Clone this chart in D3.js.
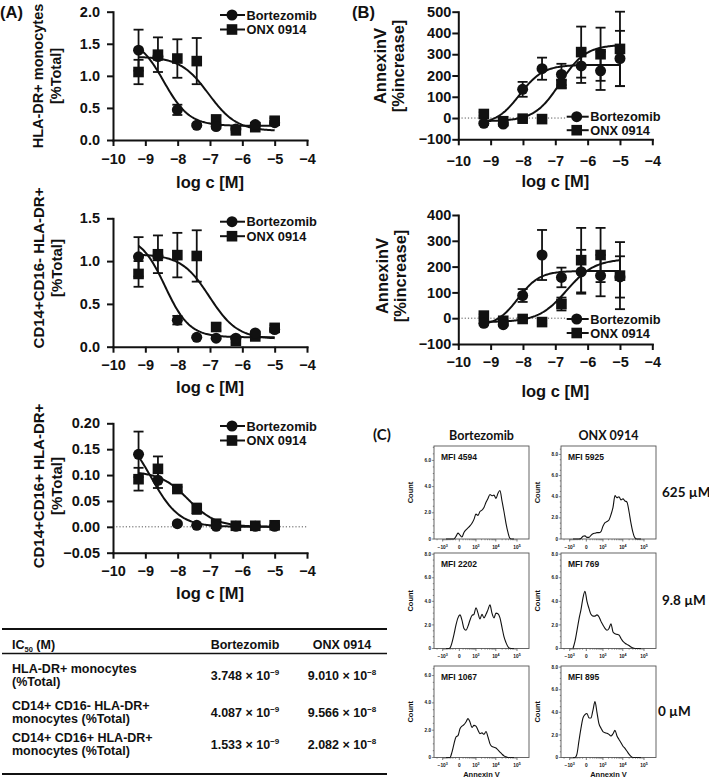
<!DOCTYPE html>
<html><head><meta charset="utf-8">
<script src="https://cdn.jsdelivr.net/npm/d3@7"></script>
<style>
body{margin:0;background:#fff;}
svg{display:block;}
</style></head><body>
<svg id="c" width="709" height="779"></svg>
<script>
// ---------------- DATA ----------------
const seriesNames = ["Bortezomib", "ONX 0914"];
const logC = [-9.21, -8.61, -8.01, -7.41, -6.81, -6.2, -5.6, -5.0];
const xTicks = [-10, -9, -8, -7, -6, -5, -4];

// IC50 table
const tableRowLabels = [["HLA-DR+ monocytes", "(%Total)"], ["CD14+ CD16- HLA-DR+", "monocytes (%Total)"], ["CD14+ CD16+ HLA-DR+", "monocytes (%Total)"]];
const ic50BortMant = ["3.748", "4.087", "1.533"];
const ic50BortExp = [-9, -9, -9];
const ic50OnxMant = ["9.010", "9.566", "2.082"];
const ic50OnxExp = [-8, -8, -8];

// Panel A1: HLA-DR+ monocytes [%Total]
const a1Bort = [1.40, 1.30, 0.47, 0.23, 0.21, 0.17, 0.24, 0.27];
const a1BortErr = [0.32, 0.05, 0.08, 0.02, 0.03, 0.02, 0.03, 0.03];
const a1Onx = [1.06, 1.33, 1.27, 1.23, 0.32, 0.15, 0.20, 0.30];
const a1OnxErr = [0.19, 0.27, 0.30, 0.36, 0.06, 0.03, 0.03, 0.04];
const a1Ticks = [0, 0.5, 1.0, 1.5, 2.0];
// fit: [value at low dose, value at high dose, hill]
const a1BortFit = [1.60, 0.22, 1.1];
const a1OnxFit = [1.30, 0.14, 1.0];

// Panel A2: CD14+CD16- HLA-DR+ [%Total]
const a2Bort = [1.05, 1.06, 0.31, 0.11, 0.10, 0.10, 0.16, 0.20];
const a2BortErr = [0.23, 0.05, 0.05, 0.01, 0.01, 0.01, 0.02, 0.02];
const a2Onx = [0.85, 1.08, 1.07, 1.06, 0.23, 0.07, 0.12, 0.22];
const a2OnxErr = [0.15, 0.22, 0.26, 0.30, 0.04, 0.02, 0.02, 0.03];
const a2Ticks = [0, 0.5, 1.0, 1.5];
const a2BortFit = [1.30, 0.11, 1.15];
const a2OnxFit = [1.08, 0.09, 1.0];

// Panel A3: CD14+CD16+ HLA-DR+ [%Total]
const a3Bort = [0.14, 0.09, 0.006, 0.003, 0.001, 0.001, 0.001, 0.001];
const a3BortErr = [0.044, 0.015, 0.002, 0.001, 0, 0, 0, 0];
const a3Onx = [0.092, 0.112, 0.073, 0.035, 0.006, 0.002, 0.002, 0.003];
const a3OnxErr = [0.022, 0.024, 0.004, 0.010, 0.002, 0.001, 0.001, 0.001];
const a3Ticks = [-0.05, 0, 0.05, 0.10, 0.15, 0.20];
const a3BortFit = [0.19, 0.0, 1.0];
const a3OnxFit = [0.107, 0.0, 1.0];

// Panel B1: AnnexinV [%increase]
const b1Bort = [-25, -28, 135, 232, 205, 245, 222, 280];
const b1BortErr = [8, 6, 35, 52, 50, 80, 90, 130];
const b1Onx = [19, -15, -3, -5, 160, 310, 300, 325];
const b1OnxErr = [8, 5, 5, 5, 18, 120, 125, 175];
const b1Ticks = [-100, 0, 100, 200, 300, 400, 500];
// fit: [low-dose value, high-dose value, logEC50, hill]
const b1BortFit = [-30, 250, -8.1, 1.2];
const b1OnxFit = [-15, 345, -6.85, 1.1];

// Panel B2: AnnexinV [%increase]
const b2Bort = [-20, -25, 88, 245, 158, 180, 165, 160];
const b2BortErr = [8, 5, 25, 97, 38, 85, 80, 80];
const b2Onx = [10, -10, -3, -15, 55, 225, 245, 165];
const b2OnxErr = [5, 5, 5, 5, 25, 125, 105, 130];
const b2Ticks = [-100, 0, 100, 200, 300, 400];
const b2BortFit = [-30, 183, -8.15, 1.3];
const b2OnxFit = [-15, 230, -6.65, 1.0];

// Panel C: Annexin V histograms
const histCols = ["Bortezomib", "ONX 0914"];
const histRows = ["625 µM", "9.8 µM", "0 µM"];
const histBins = [-640, -480, -350, -240, -155, -86, -31, 15, 66, 130, 210, 310, 430, 580, 770, 1000, 1300, 1650, 2100, 2650, 3350, 4200, 5250, 6550, 8200, 10200, 12700, 15800, 19700, 24400, 30400, 37700, 46800, 58000, 72000];
const histBort625 = [0,0,0,0,0,0.2,0.45,0.3,0.15,0.5,0.7,0.85,1.0,1.2,1.5,1.9,1.8,2.1,2.2,2.4,2.8,3.1,3.4,3.3,3.35,3.1,3.5,3.7,2.9,2.1,1.2,0.5,0.05,0,0];
const histOnx625 = [0,0,0,0,0.05,0.25,0.3,0.15,0.15,0.35,0.5,0.55,0.6,0.6,0.7,1.2,1.55,1.65,1.8,2.3,3.0,4.1,3.9,4.0,3.7,3.8,3.6,3.5,2.6,1.5,0.6,0.1,0,0,0];
const histBort98 = [0,0,0.05,0.5,1.2,2.0,2.6,2.85,2.4,1.7,1.55,1.9,2.4,2.8,2.9,3.45,3.0,2.5,2.9,2.6,2.9,3.3,3.7,3.0,2.6,3.0,2.95,2.6,1.8,1.0,0.5,0.15,0.02,0,0];
const histOnx98 = [0,0.6,1.5,2.5,3.3,4.3,4.85,4.0,3.4,2.9,2.75,2.75,2.85,2.7,2.3,2.0,1.7,1.55,1.7,2.1,1.4,1.25,1.2,1.15,0.85,0.6,0.45,0.35,0.25,0.12,0.04,0,0,0,0];
const histBort0 = [0,0,0,0.4,1.0,1.5,1.6,2.1,2.3,2.4,2.6,2.85,2.6,2.2,2.35,2.3,2.0,1.75,1.8,1.7,1.9,1.5,1.0,0.8,0.75,0.7,0.55,0.4,0.25,0.12,0.05,0,0,0,0];
const histOnx0 = [0,0,0.3,1.5,2.6,3.5,3.8,3.9,3.5,3.5,4.2,4.95,4.0,3.0,2.6,2.3,2.2,2.15,2.05,1.9,2.1,2.4,1.9,1.6,1.3,1.0,0.8,0.55,0.3,0.1,0,0,0,0,0];
const histMFI = [["4594", "5925"], ["2202", "769"], ["1067", "895"]];
const histYMax = [[7.1, 8.8], [8.1, 8.1], [6.7, 8.1]];
const histXTicks = [-1000, 0, 1000, 10000, 100000];
const histXTickLabels = [["−10", "3"], ["0", ""], ["10", "3"], ["10", "4"], ["10", "5"]];

// ---------------- DRAWING ----------------
const FONT = '"Liberation Sans", Arial, sans-serif';
const FONT2 = 'Lato, "Open Sans", sans-serif';
const INK = "#111";
const svg = d3.select("#c").attr("font-family", FONT).attr("font-weight", "bold");

function txt(g, x, y, s, size, anchor, fam) {
  return g.append("text").attr("x", x).attr("y", y).attr("font-size", size)
    .attr("text-anchor", anchor || "start").attr("fill", INK)
    .attr("font-family", fam || FONT).attr("font-weight", "bold").text(s);
}

function drawDR(cfg) {
  const g = svg.append("g");
  const x = d3.scaleLinear().domain([-10, -4]).range([cfg.x0, cfg.x1]);
  const y = d3.scaleLinear().domain(cfg.yDomain).range([cfg.yB, cfg.yT]);

  if (cfg.zero) {
    g.append("line").attr("x1", cfg.x0).attr("x2", cfg.zeroEnd || cfg.x1).attr("y1", y(0)).attr("y2", y(0))
      .attr("stroke", "#555").attr("stroke-width", 1).attr("stroke-dasharray", "1.2,2");
  }

  const xa = d3.axisBottom(x).tickValues(xTicks).tickFormat(d3.format("d"))
    .tickSize(6).tickSizeOuter(0).tickPadding(cfg.xPad);
  const gx = g.append("g").attr("transform", `translate(0,${cfg.yB})`).call(xa);
  const ya = d3.axisLeft(y).tickValues(cfg.yTicks).tickFormat(d3.format(cfg.yFmt))
    .tickSize(6).tickSizeOuter(0).tickPadding(cfg.yPad);
  const gy = g.append("g").attr("transform", `translate(${cfg.x0},0)`).call(ya);
  [gx, gy].forEach(a => {
    a.attr("font-family", FONT).attr("font-size", 14.5).attr("font-weight", "bold");
    a.select(".domain").attr("stroke", INK).attr("stroke-width", 2).attr("stroke-linecap", "square");
    a.selectAll(".tick line").attr("stroke", INK).attr("stroke-width", 2);
    a.selectAll(".tick text").attr("fill", INK);
  });

  // x title
  txt(g, (cfg.x0 + cfg.x1) / 2, cfg.yB + cfg.xTitleOff, "log c [M]", 16.5, "middle");
  // y title
  cfg.yTitle.forEach((s, i) => {
    g.append("text").attr("transform", `translate(${cfg.yTitleX[i]},${cfg.yTitleY}) rotate(-90)`)
      .attr("text-anchor", "middle").attr("dominant-baseline", "central")
      .attr("font-size", cfg.yTitleSize).attr("fill", INK).text(s);
  });

  // fitted curves
  const xs = d3.range(0, 121).map(i => logC[0] + i * (logC[logC.length - 1] - logC[0]) / 120);
  const line = d3.line().x(d => x(d[0])).y(d => y(d[1]));
  const fit = (p, mid, h, xv) => p[0] + (p[1] - p[0]) / (1 + Math.pow(10, (mid - xv) * h));
  cfg.fits.forEach(f => {
    g.append("path").datum(xs.map(v => [v, fit(f.p, f.mid, f.h, v)]))
      .attr("d", line).attr("fill", "none").attr("stroke", INK).attr("stroke-width", 2);
  });

  // error bars
  const series = [{v: cfg.onx, e: cfg.onxErr, shape: "sq"}, {v: cfg.bort, e: cfg.bortErr, shape: "ci"}];
  series.forEach(s => {
    s.v.forEach((v, i) => {
      if (!s.e[i]) return;
      const cx = x(logC[i]), yt = y(v + s.e[i]), yb = y(v - s.e[i]);
      g.append("line").attr("x1", cx).attr("x2", cx).attr("y1", yt).attr("y2", yb).attr("stroke", INK).attr("stroke-width", 1.8);
      [yt, yb].forEach(yy => g.append("line").attr("x1", cx - 5).attr("x2", cx + 5).attr("y1", yy).attr("y2", yy).attr("stroke", INK).attr("stroke-width", 1.8));
    });
  });
  // markers
  series.forEach(s => {
    s.v.forEach((v, i) => marker(g, s.shape, x(logC[i]), y(v)));
  });

  // legend
  const L = cfg.legend;
  [["ci", seriesNames[0]], ["sq", seriesNames[1]]].forEach((d, i) => {
    const yy = L.y + i * L.dy;
    g.append("line").attr("x1", L.x).attr("x2", L.x + L.len).attr("y1", yy).attr("y2", yy).attr("stroke", INK).attr("stroke-width", 2);
    marker(g, d[0], L.x + L.m, yy);
    txt(g, L.x + L.len + 1.5, yy + 4.6, d[1], 12.8, "start");
  });
}

function marker(g, shape, cx, cy) {
  if (shape === "ci") g.append("circle").attr("cx", cx).attr("cy", cy).attr("r", 5.5).attr("fill", INK);
  else g.append("rect").attr("x", cx - 5.3).attr("y", cy - 5.3).attr("width", 10.6).attr("height", 10.6).attr("fill", INK);
}

const ic50 = (m, e) => Math.log10(parseFloat(m) * Math.pow(10, e));

// Panel labels
txt(svg, 0, 18, "(A)", 16.5, "start");
txt(svg, 352, 18, "(B)", 16.5, "start");

drawDR({x0: 113, x1: 307, yB: 140, yT: 11.7, yDomain: [0, 2], yTicks: a1Ticks, yFmt: ".1f",
  bort: a1Bort, bortErr: a1BortErr, onx: a1Onx, onxErr: a1OnxErr,
  fits: [{p: a1BortFit, mid: ic50(ic50BortMant[0], ic50BortExp[0]), h: a1BortFit[2]},
         {p: a1OnxFit, mid: ic50(ic50OnxMant[0], ic50OnxExp[0]), h: a1OnxFit[2]}],
  xPad: 8, yPad: 7, xTitleOff: 48, yTitle: ["HLA-DR+ monocytes", "[%Total]"], yTitleX: [38, 56], yTitleY: 76, yTitleSize: 14.5,
  legend: {x: 220, y: 15, dy: 14.5, len: 25, m: 12}});

drawDR({x0: 113, x1: 307, yB: 346.7, yT: 218.3, yDomain: [0, 1.5], yTicks: a2Ticks, yFmt: ".1f",
  bort: a2Bort, bortErr: a2BortErr, onx: a2Onx, onxErr: a2OnxErr,
  fits: [{p: a2BortFit, mid: ic50(ic50BortMant[1], ic50BortExp[1]), h: a2BortFit[2]},
         {p: a2OnxFit, mid: ic50(ic50OnxMant[1], ic50OnxExp[1]), h: a2OnxFit[2]}],
  xPad: 7, yPad: 7, xTitleOff: 46, yTitle: ["CD14+CD16- HLA-DR+", "[%Total]"], yTitleX: [38, 56], yTitleY: 268, yTitleSize: 15,
  legend: {x: 220, y: 221.7, dy: 14.5, len: 25, m: 12}});

drawDR({x0: 113, x1: 307, yB: 552.7, yT: 423.3, yDomain: [-0.05, 0.20], yTicks: a3Ticks, yFmt: ".2f", zero: true,
  bort: a3Bort, bortErr: a3BortErr, onx: a3Onx, onxErr: a3OnxErr,
  fits: [{p: a3BortFit, mid: ic50(ic50BortMant[2], ic50BortExp[2]), h: a3BortFit[2]},
         {p: a3OnxFit, mid: ic50(ic50OnxMant[2], ic50OnxExp[2]), h: a3OnxFit[2]}],
  xPad: 7, yPad: 7, xTitleOff: 46, yTitle: ["CD14+CD16+ HLA-DR+", "[%Total]"], yTitleX: [38, 56], yTitleY: 486, yTitleSize: 15,
  legend: {x: 220, y: 426, dy: 14.5, len: 25, m: 12}});

drawDR({x0: 458.3, x1: 652.3, yB: 139.3, yT: 11.7, yDomain: [-100, 500], yTicks: b1Ticks, yFmt: "d", zero: true, zeroEnd: 566,
  bort: b1Bort, bortErr: b1BortErr, onx: b1Onx, onxErr: b1OnxErr,
  fits: [{p: b1BortFit, mid: b1BortFit[2], h: b1BortFit[3]}, {p: b1OnxFit, mid: b1OnxFit[2], h: b1OnxFit[3]}],
  xPad: 10, yPad: 1, xTitleOff: 48, yTitle: ["AnnexinV", "[%increase]"], yTitleX: [380, 398], yTitleY: 66, yTitleSize: 16.5,
  legend: {x: 566.7, y: 116.7, dy: 13.5, len: 22, m: 10}});

drawDR({x0: 458.3, x1: 652.3, yB: 344, yT: 215, yDomain: [-100, 400], yTicks: b2Ticks, yFmt: "d", zero: true, zeroEnd: 566,
  bort: b2Bort, bortErr: b2BortErr, onx: b2Onx, onxErr: b2OnxErr,
  fits: [{p: b2BortFit, mid: b2BortFit[2], h: b2BortFit[3]}, {p: b2OnxFit, mid: b2OnxFit[2], h: b2OnxFit[3]}],
  xPad: 7, yPad: 1, xTitleOff: 53, yTitle: ["AnnexinV", "[%increase]"], yTitleX: [382, 400], yTitleY: 276, yTitleSize: 16.5,
  legend: {x: 566.7, y: 319, dy: 14, len: 22, m: 10}});

// ---------------- TABLE ----------------
(function () {
  const g = svg.append("g");
  const x0 = 2, x1 = 387;
  [[629, 2], [653.5, 1.6], [774, 2]].forEach(([yy, w]) =>
    g.append("line").attr("x1", x0).attr("x2", x1).attr("y1", yy).attr("y2", yy).attr("stroke", INK).attr("stroke-width", w));
  const h = g.append("text").attr("x", 12).attr("y", 648.5).attr("font-size", 12.5).attr("fill", INK);
  h.append("tspan").text("IC");
  h.append("tspan").attr("font-size", 7.5).attr("dy", 3).text("50");
  h.append("tspan").attr("dy", -3).text(" (M)");
  txt(g, 245, 648.5, seriesNames[0], 12.5, "middle");
  txt(g, 342, 648.5, seriesNames[1], 12.5, "middle");
  const rowY = [676, 713, 745];
  tableRowLabels.forEach((r, i) => {
    txt(g, 12, rowY[i] - 3.5, r[0], 12.5, "start");
    txt(g, 12, rowY[i] + 10, r[1], 12.5, "start");
    [[245, ic50BortMant[i], ic50BortExp[i]], [342, ic50OnxMant[i], ic50OnxExp[i]]].forEach(([cx, m, e]) => {
      const t = g.append("text").attr("x", cx).attr("y", rowY[i] + 4).attr("font-size", 12.5)
        .attr("text-anchor", "middle").attr("fill", INK);
      t.append("tspan").text(m + " × 10");
      t.append("tspan").attr("font-size", 8).attr("dy", -5).text("−" + Math.abs(e));
    });
  });
})();

// ---------------- PANEL C ----------------
txt(svg, 373, 440, "(C)", 15, "start", FONT2);
const boxLeft = [434, 561], boxW = 95;
const boxTop = [446, 553, 666], boxH = [93, 95.5, 91.5];
histCols.forEach((c, j) => txt(svg, boxLeft[j] + boxW / 2, 439.5, c, 12.5, "middle", FONT2));
histRows.forEach((r, i) => txt(svg, 662 - (i === 2 ? 4 : 0), boxTop[i] + boxH[i] / 2 + 4, r, 13.5, "start", FONT2));
const histData = [[histBort625, histOnx625], [histBort98, histOnx98], [histBort0, histOnx0]];

histData.forEach((row, i) => row.forEach((counts, j) => {
  const g = svg.append("g");
  const L = boxLeft[j], T = boxTop[i], H = boxH[i];
  const x = d3.scaleSymlog().constant(200).domain([-2860, 365000]).range([L, L + boxW]);
  const y = d3.scaleLinear().domain([0, histYMax[i][j]]).range([T + H, T]);
  g.append("rect").attr("x", L).attr("y", T).attr("width", boxW).attr("height", H)
    .attr("fill", "none").attr("stroke", "#555").attr("stroke-width", 0.9);
  g.append("path").datum(counts).attr("fill", "none").attr("stroke", INK).attr("stroke-width", 1.1)
    .attr("d", d3.line().x((d, k) => x(histBins[k])).y(d => y(d)).curve(d3.curveMonotoneX));
  // y ticks
  d3.range(0, histYMax[i][j] + 0.001, 0.5).forEach(v => {
    const major = Math.abs(v % 2) < 1e-6;
    g.append("line").attr("x1", L - (major ? 2.2 : 1.2)).attr("x2", L).attr("y1", y(v)).attr("y2", y(v))
      .attr("stroke", "#444").attr("stroke-width", 0.6);
    if (major) txt(g, L - 3, y(v) + 1.6, v === 0 ? "0" : v.toFixed(1), 4.6, "end");
  });
  // x ticks (minor)
  const minor = [];
  for (let k = 1; k <= 9; k++) minor.push(-k * 100, k * 100);
  for (let k = 2; k <= 9; k++) minor.push(-k * 1000, k * 1000, k * 10000);
  minor.filter(v => v > -2860 && v < 365000).forEach(v =>
    g.append("line").attr("x1", x(v)).attr("x2", x(v)).attr("y1", T + H).attr("y2", T + H + 1.3).attr("stroke", "#444").attr("stroke-width", 0.5));
  histXTicks.forEach((v, k) => {
    g.append("line").attr("x1", x(v)).attr("x2", x(v)).attr("y1", T + H).attr("y2", T + H + 2.5).attr("stroke", "#444").attr("stroke-width", 0.7);
    const t = g.append("text").attr("x", x(v)).attr("y", T + H + 9.5).attr("font-size", 4.8).attr("text-anchor", "middle").attr("fill", INK);
    t.append("tspan").text(histXTickLabels[k][0]);
    if (histXTickLabels[k][1]) t.append("tspan").attr("font-size", 3.6).attr("dy", -2).text(histXTickLabels[k][1]);
  });
  txt(g, L + 7, T + 13.5, "MFI " + histMFI[i][j], 8.5, "start");
  g.append("text").attr("transform", `translate(${L - 24},${T + H / 2}) rotate(-90)`)
    .attr("text-anchor", "middle").attr("dominant-baseline", "central").attr("font-size", 7.5).attr("fill", INK).text("Count");
  if (i === 2) txt(g, L + boxW / 2, 777, "Annexin V", 7.5, "middle");
}));
</script>
</body></html>
